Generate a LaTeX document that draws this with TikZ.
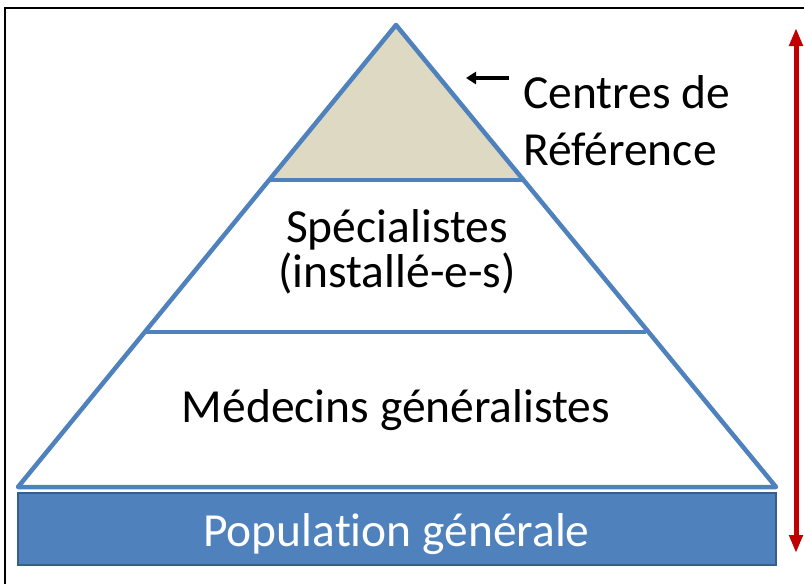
\documentclass[tikz,border=0pt]{standalone}
\usepackage{fontspec}
\setmainfont[Ligatures={NoCommon,NoContextual}]{Carlito}
\usetikzlibrary{arrows.meta}
\definecolor{pyrblue}{HTML}{4F81BD}
\definecolor{darkblue}{HTML}{385D8A}
\definecolor{beige}{HTML}{DDD9C3}
\definecolor{darkred}{HTML}{C00000}
\begin{document}
\begin{tikzpicture}[x=1pt,y=-1pt,
  lbl/.style={font=\fontsize{47.5}{50}\selectfont, inner sep=0pt, anchor=base},
  edge/.style={draw=pyrblue, line width=4.5pt, line join=round}]
\useasboundingbox (0,0) rectangle (804,584);
% frame
\draw[line width=2.5pt] (5,584) -- (5,8) -- (804,8);
% pyramid coordinates
\coordinate (apex) at (396,25);
\coordinate (bl) at (18,487);
\coordinate (br) at (776,487);
\coordinate (l1) at (269.4,180);
\coordinate (r1) at (522.6,180);
\coordinate (l2) at (145.6,332);
\coordinate (r2) at (646.4,332);
\fill[beige] (apex) -- (l1) -- (r1) -- cycle;
\draw[edge] (apex) -- (bl) -- (br) -- cycle;
\draw[edge] (l1) -- (r1);
\draw[edge] (l2) -- (r2);
% base rectangle
\node[draw=darkblue, fill=pyrblue, line width=2.5pt, minimum width=758pt, minimum height=72pt, inner sep=0pt] (pop) at (397,529) {};
\node[lbl, text=white] (poptext) at (396.5,546) {Populat\kern0pt ion générale};
% labels
\node[lbl] (spec1) at (397,242) {Spécialistes};
\node[lbl] (spec2) at (397,287) {(installé-e-s)};
\node[lbl] (med) at (396,422) {Médecins généralistes};
\node[lbl, anchor=base west] (cr1) at (523,108) {Centres de};
\node[lbl, anchor=base west] (cr2) at (523,165) {Référence};
% small arrow
\coordinate (sa) at (509,78);
\coordinate (sb) at (466,78);
\draw[line width=4pt, -{Triangle[length=10pt,width=12pt]}] (sa) -- (sb);
% red arrow
\coordinate (rt) at (796,28);
\coordinate (rb) at (796,553);
\draw[darkred, line width=5pt, {Triangle[length=18pt,width=13pt]}-{Triangle[length=18pt,width=13pt]}] (rt) -- (rb);
\end{tikzpicture}
\end{document}
